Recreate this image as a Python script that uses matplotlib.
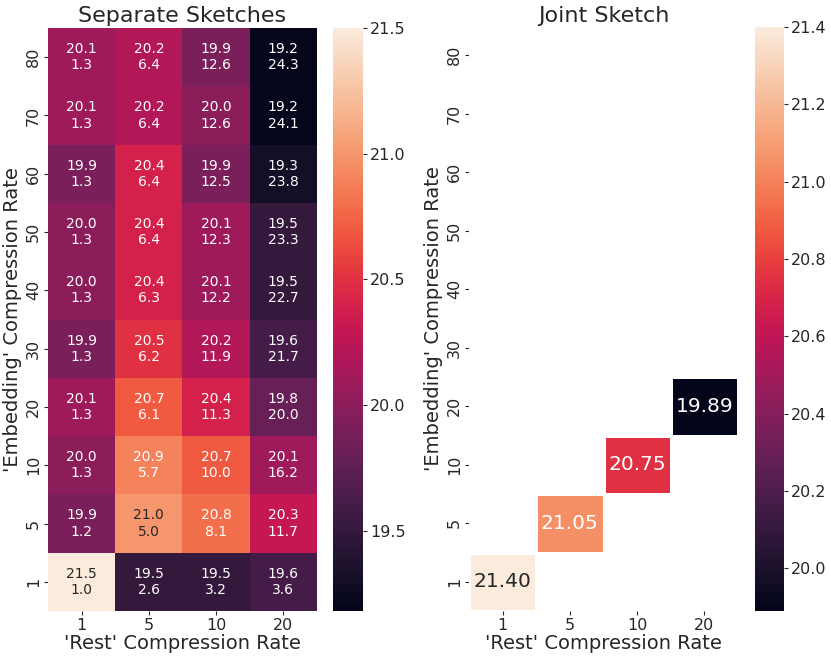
import numpy as np
import matplotlib

matplotlib.use("Agg")
import matplotlib.pyplot as plt
import seaborn as sns

# rows are the 'Embedding' rate (top to bottom), columns the 'Rest' rate
embedding_rates = [80, 70, 60, 50, 40, 30, 20, 10, 5, 1]
rest_rates = [1, 5, 10, 20]

# separate sketches: score (colour) and compression (second line)
sep_score = np.array(
    [
        [20.1, 20.2, 19.9, 19.2],
        [20.1, 20.2, 20.0, 19.2],
        [19.9, 20.4, 19.9, 19.3],
        [20.0, 20.4, 20.1, 19.5],
        [20.0, 20.4, 20.1, 19.5],
        [19.9, 20.5, 20.2, 19.6],
        [20.1, 20.7, 20.4, 19.8],
        [20.0, 20.9, 20.7, 20.1],
        [19.9, 21.0, 20.8, 20.3],
        [21.5, 19.5, 19.5, 19.6],
    ]
)
sep_size = np.array(
    [
        [1.3, 6.4, 12.6, 24.3],
        [1.3, 6.4, 12.6, 24.1],
        [1.3, 6.4, 12.5, 23.8],
        [1.3, 6.4, 12.3, 23.3],
        [1.3, 6.3, 12.2, 22.7],
        [1.3, 6.2, 11.9, 21.7],
        [1.3, 6.1, 11.3, 20.0],
        [1.3, 5.7, 10.0, 16.2],
        [1.2, 5.0, 8.1, 11.7],
        [1.0, 2.6, 3.2, 3.6],
    ]
)

# joint sketch: only the diagonal (same rate for both)
joint_rates = [1, 5, 10, 20]
joint_score = [21.40, 21.05, 20.75, 19.89]

sns.set_style("ticks")

joint = np.full((len(embedding_rates), len(rest_rates)), np.nan)
for r, s in zip(joint_rates, joint_score):
    joint[embedding_rates.index(r), rest_rates.index(r)] = s

labels = np.array(
    [[f"{a:.1f}\n{b:.1f}" for a, b in zip(ra, rb)] for ra, rb in zip(sep_score, sep_size)]
)

W, H = 831, 660
fig = plt.figure(figsize=(W / 100, H / 100), dpi=100)


def box(x0, y0, x1, y1):
    # pixel box -> figure fraction
    return [x0 / W, 1 - y1 / H, (x1 - x0) / W, (y1 - y0) / H]


ax1 = fig.add_axes(box(48, 28, 317, 611))
cax1 = fig.add_axes(box(333, 28, 363, 611))
ax2 = fig.add_axes(box(469, 26, 738, 611))
cax2 = fig.add_axes(box(755, 27, 784, 611))

sns.heatmap(
    sep_score,
    ax=ax1,
    cbar_ax=cax1,
    annot=labels,
    fmt="",
    vmin=19.18,
    vmax=21.5,
    annot_kws={"size": 10},
    xticklabels=rest_rates,
    yticklabels=embedding_rates,
)
ax1.set_title("Separate Sketches", fontsize=16, pad=4)

sns.heatmap(
    joint,
    ax=ax2,
    cbar_ax=cax2,
    annot=True,
    fmt=".2f",
    linewidths=1,
    linecolor="white",
    annot_kws={"size": 14.5},
    xticklabels=rest_rates,
    yticklabels=embedding_rates,
)
ax2.set_title("Joint Sketch", fontsize=16, pad=3)
cax2.set_yticks([20.0, 20.2, 20.4, 20.6, 20.8, 21.0, 21.2, 21.4])

for ax in (ax1, ax2):
    ax.set_xlabel("'Rest' Compression Rate", fontsize=14, labelpad=1)
    ax.set_ylabel("'Embedding' Compression Rate", fontsize=14, labelpad=3)
    ax.tick_params(axis="x", labelsize=11.5, rotation=0, length=3, pad=2)
    ax.tick_params(axis="y", labelsize=11.5, length=3, pad=2)
    plt.setp(ax.get_yticklabels(), rotation=90, va="center")

for cax in (cax1, cax2):
    cax.tick_params(labelsize=11.5, length=3, pad=2)
    cax.yaxis.set_major_formatter(matplotlib.ticker.FormatStrFormatter("%.1f"))

fig.savefig("out.png", dpi=100)
